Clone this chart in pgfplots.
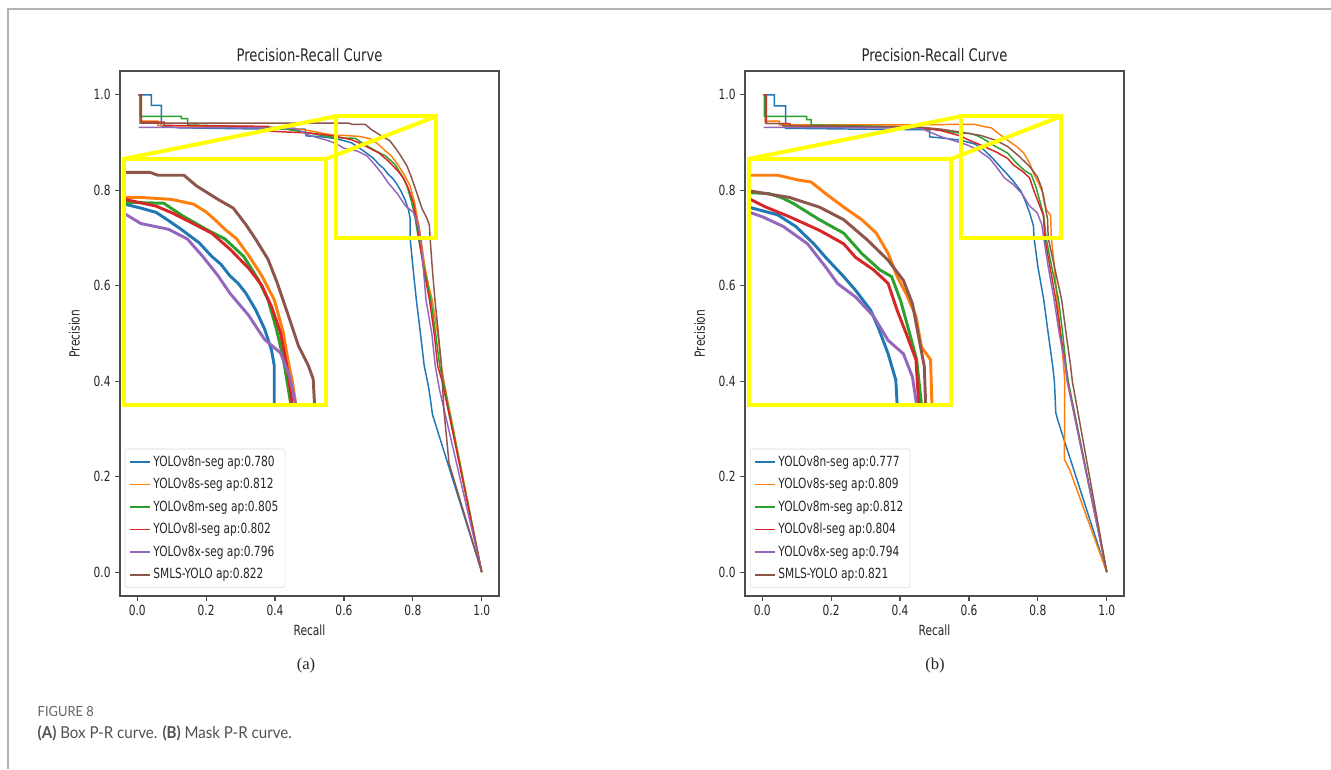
\documentclass[border=0pt]{standalone}
\usepackage{fontspec}
\setmainfont{DejaVu Sans}[FakeStretch=0.76]
\newfontfamily\serifa{Liberation Serif}
\newfontfamily\capfont{Lato}[FakeStretch=0.92]
\usepackage{pgfplots}
\usepackage{pgfplotstable}
\pgfplotsset{compat=1.18}

\definecolor{tblue}{HTML}{1F77B4}
\definecolor{torange}{HTML}{FF7F0E}
\definecolor{tgreen}{HTML}{2CA02C}
\definecolor{tred}{HTML}{D62728}
\definecolor{tpurple}{HTML}{9467BD}
\definecolor{tbrown}{HTML}{8C564B}
\definecolor{yel}{HTML}{FFFF00}

\newcommand\tickfont{\fontsize{10.5}{12.6}\selectfont}
\newcommand\titlefont{\fontsize{13}{15.6}\selectfont}

% ---------- Box P-R (a) ----------
\pgfplotstableread{
x y
0.004 1.0
0.041 1.0
0.041 0.978
0.07 0.978
0.07 0.935
0.12 0.931
0.30 0.929
0.45 0.928
0.487 0.928
0.49 0.914
0.52 0.913
0.55 0.911
0.577 0.908
0.60 0.904
0.622 0.8995
0.64 0.891
0.658 0.882
0.684 0.868
0.702 0.854
0.715 0.846
0.728 0.834
0.74 0.826
0.751 0.816
0.765 0.799
0.778 0.779
0.788 0.757
0.792 0.741
0.792 0.70
0.80 0.64
0.81 0.571
0.822 0.50
0.833 0.432
0.845 0.39
0.851 0.362
0.855 0.34
0.857 0.33
1.0 0.0
}\LB
\pgfplotstableread{
x y
0.004 1.0
0.01 1.0
0.01 0.945
0.06 0.945
0.06 0.936
0.20 0.934
0.35 0.932
0.45 0.930
0.50 0.925
0.55 0.918
0.577 0.915
0.60 0.915
0.644 0.913
0.676 0.908
0.694 0.900
0.708 0.891
0.721 0.882
0.738 0.872
0.756 0.854
0.774 0.834
0.792 0.809
0.805 0.775
0.812 0.745
0.818 0.725
0.823 0.70
0.835 0.64
0.846 0.60
0.856 0.571
0.865 0.53
0.872 0.50
0.883 0.432
0.89 0.40
1.0 0.0
}\LO
\pgfplotstableread{
x y
0.004 1.0
0.008 1.0
0.008 0.955
0.128 0.955
0.128 0.950
0.146 0.950
0.146 0.937
0.40 0.932
0.50 0.920
0.55 0.913
0.577 0.910
0.633 0.909
0.660 0.896
0.694 0.882
0.721 0.872
0.748 0.854
0.769 0.830
0.783 0.809
0.795 0.779
0.805 0.748
0.816 0.70
0.832 0.64
0.852 0.571
0.866 0.50
0.878 0.432
0.888 0.40
1.0 0.0
}\LG
\pgfplotstableread{
x y
0.004 1.0
0.012 1.0
0.012 0.943
0.078 0.943
0.078 0.936
0.38 0.934
0.38 0.924
0.50 0.920
0.55 0.916
0.577 0.913
0.622 0.906
0.645 0.899
0.667 0.891
0.702 0.878
0.729 0.861
0.756 0.841
0.774 0.824
0.788 0.802
0.801 0.775
0.810 0.741
0.818 0.70
0.83 0.64
0.848 0.571
0.862 0.50
0.872 0.432
0.885 0.40
1.0 0.0
}\LR
\pgfplotstableread{
x y
0.004 0.932
0.30 0.931
0.457 0.930
0.50 0.915
0.55 0.905
0.577 0.898
0.600 0.888
0.640 0.882
0.667 0.872
0.689 0.854
0.711 0.834
0.728 0.816
0.755 0.793
0.778 0.768
0.801 0.754
0.814 0.730
0.823 0.70
0.83 0.64
0.838 0.571
0.855 0.50
0.865 0.432
0.878 0.38
1.0 0.0
}\LP
\pgfplotstableread{
x y
0.004 1.0
0.008 1.0
0.008 0.941
0.55 0.941
0.613 0.941
0.6245 0.938
0.662 0.938
0.680 0.927
0.711 0.913
0.733 0.904
0.752 0.886
0.765 0.872
0.783 0.851
0.796 0.827
0.814 0.789
0.827 0.761
0.841 0.741
0.848 0.727
0.850 0.70
0.856 0.64
0.864 0.571
0.874 0.50
0.883 0.432
0.89 0.34
0.905 0.228
1.0 0.0
}\LN

% ---------- Mask P-R (b) ----------
\pgfplotstableread{
x y
0.004 1.0
0.035 1.0
0.035 0.977
0.068 0.977
0.068 0.930
0.30 0.928
0.486 0.927
0.486 0.912
0.53 0.909
0.575 0.905
0.617 0.897
0.643 0.885
0.669 0.867
0.686 0.853
0.712 0.833
0.729 0.819
0.751 0.798
0.763 0.778
0.776 0.753
0.787 0.726
0.789 0.70
0.80 0.64
0.817 0.571
0.83 0.50
0.843 0.432
0.848 0.40
0.852 0.334
0.857 0.32
1.0 0.0
}\RB
\pgfplotstableread{
x y
0.004 1.0
0.008 1.0
0.008 0.945
0.05 0.945
0.05 0.937
0.40 0.937
0.55 0.938
0.578 0.938
0.617 0.938
0.647 0.933
0.665 0.931
0.686 0.919
0.712 0.905
0.738 0.892
0.759 0.878
0.776 0.857
0.789 0.833
0.802 0.815
0.816 0.792
0.824 0.760
0.837 0.747
0.839 0.70
0.848 0.64
0.856 0.571
0.866 0.50
0.875 0.432
0.878 0.40
0.877 0.236
0.892 0.215
1.0 0.0
}\RO
\pgfplotstableread{
x y
0.004 1.0
0.006 1.0
0.006 0.955
0.129 0.955
0.129 0.948
0.142 0.948
0.142 0.937
0.40 0.933
0.50 0.928
0.55 0.922
0.575 0.920
0.604 0.919
0.622 0.915
0.639 0.909
0.677 0.892
0.712 0.878
0.738 0.857
0.764 0.840
0.781 0.833
0.794 0.808
0.807 0.774
0.817 0.747
0.824 0.70
0.84 0.64
0.86 0.571
0.872 0.50
0.882 0.432
0.888 0.40
1.0 0.0
}\RG
\pgfplotstableread{
x y
0.004 1.0
0.012 1.0
0.012 0.940
0.08 0.940
0.08 0.935
0.45 0.932
0.52 0.925
0.575 0.914
0.600 0.905
0.634 0.895
0.677 0.881
0.712 0.867
0.729 0.853
0.755 0.840
0.776 0.826
0.789 0.798
0.802 0.774
0.816 0.747
0.820 0.70
0.835 0.64
0.852 0.571
0.866 0.50
0.88 0.432
0.886 0.40
1.0 0.0
}\RR
\pgfplotstableread{
x y
0.004 0.932
0.30 0.931
0.46 0.930
0.52 0.912
0.575 0.900
0.595 0.895
0.625 0.885
0.660 0.867
0.686 0.843
0.703 0.826
0.729 0.812
0.755 0.792
0.776 0.767
0.798 0.753
0.811 0.729
0.817 0.70
0.83 0.64
0.847 0.571
0.862 0.50
0.880 0.432
0.885 0.40
1.0 0.0
}\RP
\pgfplotstableread{
x y
0.004 1.0
0.010 1.0
0.010 0.940
0.06 0.940
0.06 0.935
0.45 0.933
0.52 0.928
0.575 0.922
0.634 0.915
0.677 0.905
0.712 0.892
0.746 0.871
0.776 0.850
0.798 0.829
0.811 0.805
0.819 0.774
0.828 0.740
0.830 0.70
0.848 0.64
0.869 0.571
0.882 0.50
0.895 0.432
0.90 0.40
1.0 0.0
}\RN

\pgfplotsset{
  prstyle/.style={
    scale only axis, anchor=south west,
    width=284.25pt, height=393.75pt,
    xmin=-0.05, xmax=1.05, ymin=-0.05, ymax=1.05,
    xtick={0,0.2,0.4,0.6,0.8,1.0}, ytick={0,0.2,0.4,0.6,0.8,1.0},
    tick align=outside, tick pos=left, major tick length=3.5pt,
    axis line style={black!70, line width=0.9pt},
    every tick/.style={black!70, line width=0.9pt},
    tick label style={font=\tickfont, text=black!85},
    /pgf/number format/fixed, /pgf/number format/fixed zerofill,
    /pgf/number format/precision=1, /pgf/number format/assume math mode=true,
    title={Precision-Recall Curve},
    title style={font=\titlefont, text=black!85, at={(0.5,1)}, anchor=south, yshift=-2.5pt},
    xlabel={Recall}, ylabel={Precision},
    label style={font=\tickfont, text=black!85},
    ylabel style={at={(axis description cs:-0.12,0.5)}, anchor=center},
    clip mode=individual,
    legend cell align=left,
    legend image code/.code={\draw[##1, line width=1.2pt] (0pt,0pt) -- (15pt,0pt);},
    legend style={at={(0.0127,0.0155)}, anchor=south west, draw=black!15,
      rounded corners=2pt, font=\tickfont, row sep=3.6pt,
      inner xsep=3pt, inner ysep=3pt, text=black!85},
    every axis plot/.append style={line width=1.1pt, mark=none},
  },
  insetstyle/.style={
    scale only axis, anchor=south west,
    width=151.69pt, height=184.71pt,
    xmin=0.576, xmax=0.867, ymin=0.70, ymax=0.955,
    hide axis, clip mode=individual,
    every axis plot/.append style={line width=2.2pt, mark=none},
  },
}

\begin{document}
\begin{tikzpicture}[x=0.75pt,y=0.75pt]
\path[use as bounding box] (0,0) rectangle (1331,769);
\fill[white] (0,0) rectangle (1331,769);
\draw[black!30, line width=1.1pt] (1331,760) -- (8,760) -- (8,0);

% ---- left main ----
\begin{axis}[prstyle, name=L, at={(90pt,129.75pt)}]
\addplot[tblue] table {\LB};
\addplot[torange] table {\LO};
\addplot[tgreen] table {\LG};
\addplot[tred] table {\LR};
\addplot[tpurple] table {\LP};
\addplot[tbrown] table {\LN};
\legend{YOLOv8n-seg ap:0.780, YOLOv8s-seg ap:0.812, YOLOv8m-seg ap:0.805, YOLOv8l-seg ap:0.802, YOLOv8x-seg ap:0.796, SMLS-YOLO ap:0.822}
\draw[yel, line width=3pt] (axis cs:0.576,0.70) rectangle (axis cs:0.867,0.955);
\draw[yel, line width=3pt] (axis cs:-0.038,0.866) -- (axis cs:0.576,0.955);
\draw[yel, line width=3pt] (axis cs:0.549,0.866) -- (axis cs:0.867,0.955);
\end{axis}
\begin{axis}[insetstyle, at={(93.10pt,272.93pt)}]
\addplot[tblue] table {\LB};
\addplot[torange] table {\LO};
\addplot[tgreen] table {\LG};
\addplot[tred] table {\LR};
\addplot[tpurple] table {\LP};
\addplot[tbrown] table {\LN};
\draw[yel, line width=3pt] (rel axis cs:0,0) rectangle (rel axis cs:1,1);
\end{axis}

% ---- right main ----
\begin{axis}[prstyle, name=R, at={(558.75pt,129.75pt)}]
\addplot[tblue] table {\RB};
\addplot[torange] table {\RO};
\addplot[tgreen] table {\RG};
\addplot[tred] table {\RR};
\addplot[tpurple] table {\RP};
\addplot[tbrown] table {\RN};
\legend{YOLOv8n-seg ap:0.777, YOLOv8s-seg ap:0.809, YOLOv8m-seg ap:0.812, YOLOv8l-seg ap:0.804, YOLOv8x-seg ap:0.794, SMLS-YOLO ap:0.821}
\draw[yel, line width=3pt] (axis cs:0.576,0.70) rectangle (axis cs:0.867,0.955);
\draw[yel, line width=3pt] (axis cs:-0.038,0.866) -- (axis cs:0.576,0.955);
\draw[yel, line width=3pt] (axis cs:0.549,0.866) -- (axis cs:0.867,0.955);
\end{axis}
\begin{axis}[insetstyle, at={(561.85pt,272.93pt)}]
\addplot[tblue] table {\RB};
\addplot[torange] table {\RO};
\addplot[tgreen] table {\RG};
\addplot[tred] table {\RR};
\addplot[tpurple] table {\RP};
\addplot[tbrown] table {\RN};
\draw[yel, line width=3pt] (rel axis cs:0,0) rectangle (rel axis cs:1,1);
\end{axis}

% ---- sub-captions ----
\node[font=\serifa\fontsize{12.5}{14}\selectfont, text=black!85] at (306,104) {(a)};
\node[font=\serifa\fontsize{12.5}{14}\selectfont, text=black!85] at (935,104) {(b)};

% ---- figure caption ----
\node[anchor=west, font=\capfont\fontsize{10.5}{12.6}\selectfont, text=black!60] at (33,58) {FIGURE 8};
\node[anchor=west, font=\capfont\fontsize{12.3}{14.8}\selectfont, text=black!68] at (33,36)
  {\textbf{(A)} Box P-R curve. \textbf{(B)} Mask P-R curve.};
\end{tikzpicture}
\end{document}
